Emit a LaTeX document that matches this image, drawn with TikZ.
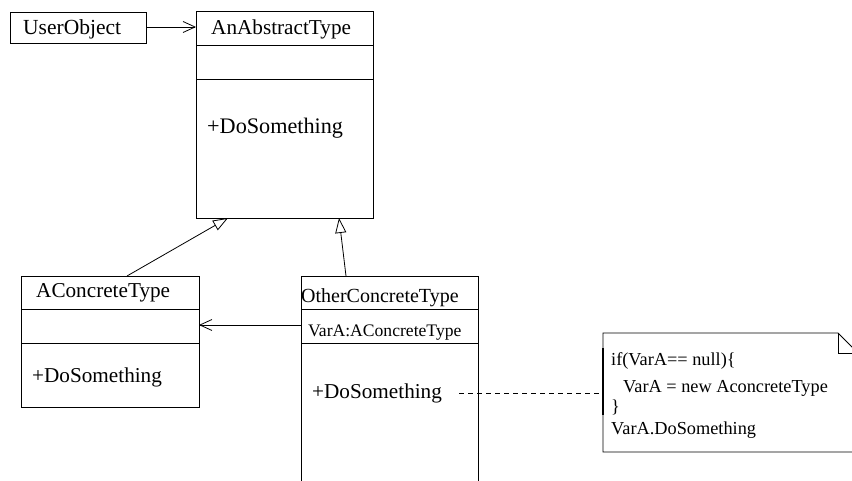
\documentclass[tikz,border=0pt]{standalone}
\usepackage{fontspec}
\setmainfont{Liberation Serif}
\usetikzlibrary{arrows.meta}
\begin{document}
\begin{tikzpicture}[x=1pt,y=-1pt,
  umlbox/.style={draw, line width=0.8pt, inner sep=0pt, outer sep=0pt, fill=white},
  divider/.style={line width=0.8pt},
  txt/.style={font=\fontsize{#1}{#1}\selectfont, inner sep=0pt, anchor=base west},
  assoc/.style={line width=0.8pt, -{Straight Barb[length=12pt,width=11pt,line width=0.8pt]}},
  general/.style={line width=0.8pt, -{Triangle[open,length=15pt,width=11pt,line width=0.8pt]}},
  notelink/.style={line width=0.8pt, dash pattern=on 5pt off 4pt}]
\useasboundingbox (0,0) rectangle (852,481);
\clip (0,0) rectangle (852,481);

% UserObject
\node[umlbox, minimum width=136pt, minimum height=31pt] (user) at (78,27.5) {};
\node[txt=21.5] (usertxt) at (23,35) {UserObject};

% AnAbstractType
\node[umlbox, minimum width=177pt, minimum height=207pt] (abs) at (284.5,114.5) {};
\draw[divider] (196,45) -- (373,45);
\draw[divider] (196,79) -- (373,79);
\node[txt=21.2] (abstxt) at (211,35) {AnAbstractType};
\node[txt=22.2] (absop) at (207,134) {+DoSomething};

% AConcreteType
\node[umlbox, minimum width=178pt, minimum height=131pt] (conc) at (110,341.5) {};
\draw[divider] (21,309) -- (199,309);
\draw[divider] (21,343) -- (199,343);
\node[txt=21.2] (conctxt) at (36,298) {AConcreteType};
\node[txt=21.2] (concop) at (32,382) {+DoSomething};

% OtherConcreteType
\node[umlbox, minimum width=177pt, minimum height=230pt] (other) at (389.5,391) {};
\draw[divider] (301,309) -- (478,309);
\draw[divider] (301,343) -- (478,343);
\node[txt=20] (othertxt) at (301,302) {OtherConcreteType};
\node[txt=17.6] (othervar) at (308,336) {VarA:AConcreteType};
\node[txt=21.2] (otherop) at (312,398) {+DoSomething};

% Note
\draw[line width=0.8pt, fill=white] (603,333) -- (838,333) -- (870,365) -- (870,452) -- (603,452) -- cycle;
\draw[line width=0.8pt] (838,333) -- (838,353) -- (870,353);
\draw[line width=2.2pt] (603,348) -- (603,415);
\coordinate (notel) at (603,393);
\node[txt=18.3] (n1) at (611,365) {if(VarA== null)\{};
\node[txt=18.3] (n2) at (623,392) {VarA = new AconcreteType};
\node[txt=18.3] (n3) at (611,412) {\}};
\node[txt=18.3] (n4) at (611,434) {VarA.DoSomething};

% connectors
\coordinate (userR) at (146,27);
\coordinate (absL) at (196,27);
\draw[assoc] (userR) -- (absL);

\coordinate (otherL) at (301,325);
\coordinate (concR) at (199,325);
\draw[assoc] (otherL) -- (concR);

\coordinate (concT) at (127,276);
\coordinate (absB1) at (228,218);
\draw[general] (concT) -- (absB1);

\coordinate (otherT) at (346,276);
\coordinate (absB2) at (339,218);
\draw[general] (otherT) -- (absB2);

\coordinate (opR) at (459,393);
\draw[notelink] (opR) -- (notel);
\end{tikzpicture}
\end{document}
